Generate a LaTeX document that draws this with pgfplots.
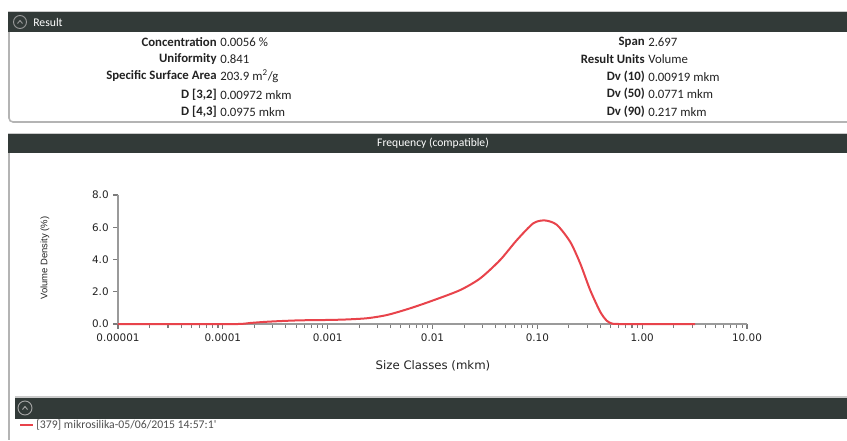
\documentclass[border=0pt]{standalone}
\usepackage{pgfplots}
\pgfplotsset{compat=1.18}
\usepackage{fontspec}
\setmainfont{Carlito}
\newfontfamily\dejavu{DejaVu Sans}
\newfontfamily\libsans{Liberation Sans}
\definecolor{barc}{HTML}{323A38}
\definecolor{brd}{HTML}{B4B4B4}
\definecolor{curve}{HTML}{E8434B}
\definecolor{axgray}{HTML}{9A9A9A}
\definecolor{txt}{HTML}{222222}
\begin{document}
\begin{tikzpicture}[x=0.75pt,y=0.75pt]
\useasboundingbox (0,0) rectangle (847,440);
% ---------- Result panel ----------
\draw[brd, line width=1.2pt, rounded corners=3pt] (847,428) -- (9,428) -- (9,318) -- (847,318);
\fill[barc] (8.4,428.5) rectangle (847,407.5);
\draw[brd!70, line width=0.8pt] (8.4,428.5) -- (847,428.5);
\draw[gray!80, line width=0.7pt] (20,418) circle (6.5);
\draw[gray!80, line width=0.7pt] (17.5,416.5) -- (20,419.5) -- (22.5,416.5);
\node[white, anchor=west, font=\fontsize{8.8}{9}\selectfont, inner sep=0] at (33,418) {Result};
\begin{scope}[every node/.style={font=\fontsize{9.6}{10}\selectfont, inner sep=0, text=txt}]
\node[anchor=east] at (217,398) {\bfseries Concentration};
\node[anchor=west] at (220,398) {0.0056 \%};
\node[anchor=east] at (217,381) {\bfseries Uniformity};
\node[anchor=west] at (220,381) {0.841};
\node[anchor=east] at (217,364) {\bfseries Specific Surface Area};
\node[anchor=west] at (220,364) {203.9 m\textsuperscript{2}/g};
\node[anchor=east] at (217,345) {\bfseries D [3,2]};
\node[anchor=west] at (220,345) {0.00972 mkm};
\node[anchor=east] at (217,328) {\bfseries D [4,3]};
\node[anchor=west] at (220,328) {0.0975 mkm};
\node[anchor=east] at (645,398) {\bfseries Span};
\node[anchor=west] at (648,398) {2.697};
\node[anchor=east] at (645,381) {\bfseries Result Units};
\node[anchor=west] at (648,381) {Volume};
\node[anchor=east] at (645,363) {\bfseries Dv (10)};
\node[anchor=west] at (648,363) {0.00919 mkm};
\node[anchor=east] at (645,346) {\bfseries Dv (50)};
\node[anchor=west] at (648,346) {0.0771 mkm};
\node[anchor=east] at (645,328) {\bfseries Dv (90)};
\node[anchor=west] at (648,328) {0.217 mkm};
\end{scope}
% ---------- Frequency panel ----------
\draw[brd, line width=1.2pt] (9,306) -- (9,0);
\fill[barc] (8.4,306.5) rectangle (847,287);
\draw[brd!70, line width=0.8pt] (8.4,306.5) -- (847,306.5);
\node[white, font=\fontsize{8.7}{9}\selectfont, inner sep=0] at (433,296.5) {Frequency (compatible)};
% bottom legend bar
\fill[barc] (15,43) rectangle (847,21);
\draw[brd!70, line width=0.8pt] (15,43) -- (847,43);
\draw[gray!70, line width=0.7pt] (25,32) circle (7);
\draw[gray!70, line width=0.7pt] (22.5,30.5) -- (25,33.5) -- (27.5,30.5);
\draw[curve, line width=1.3pt] (20,15) -- (33,15);
\node[anchor=west, inner sep=0, text=txt!80, font=\fontsize{8.8}{9}\selectfont] at (36,15) {[379] mikrosilika-05/06/2015 14:57:1\textquotesingle};
\node[rotate=90, font=\libsans\fontsize{7.1}{8}\selectfont, text=txt] at (45,182) {Volume Density (\%)};
\node[font=\dejavu\fontsize{8.8}{10}\selectfont, text=txt] at (433,74) {Size Classes (mkm)};
% ---------- axis ----------
\begin{axis}[
  at={(88.5pt,87pt)}, anchor=south west,
  scale only axis, width=471.75pt, height=96.75pt,
  xmode=log, xmin=1e-5, xmax=10, ymin=0, ymax=8,
  clip=false,
  axis x line*=bottom, axis y line*=left,
  axis line style={axgray, line width=1.4pt},
  xtick={1e-5,1e-4,1e-3,1e-2,1e-1,1,10},
  xticklabels={0.00001,0.0001,0.001,0.01,0.10,1.00,10.00},
  minor xtick={2e-5,3e-5,4e-5,5e-5,6e-5,7e-5,8e-5,9e-5,
               2e-4,3e-4,4e-4,5e-4,6e-4,7e-4,8e-4,9e-4,
               2e-3,3e-3,4e-3,5e-3,6e-3,7e-3,8e-3,9e-3,
               2e-2,3e-2,4e-2,5e-2,6e-2,7e-2,8e-2,9e-2,
               0.2,0.3,0.4,0.5,0.6,0.7,0.8,0.9,
               2,3,4,5,6,7,8,9},
  ytick={0,2,4,6,8},
  yticklabels={0.0,2.0,4.0,6.0,8.0},
  tick align=outside,
  major tick length=3.5pt, minor tick length=3pt,
  every tick/.style={axgray!80!black, line width=0.8pt},
  tick label style={font=\dejavu\fontsize{7.8}{9}\selectfont, text=txt},
]
\addplot[curve, line width=1.5pt, smooth, tension=0.45] coordinates {
(1e-5,0) (5e-5,0) (1.4e-4,0) (1.8e-4,0.06) (2.5e-4,0.13) (3.5e-4,0.18)
(5e-4,0.22) (7e-4,0.24) (1e-3,0.25) (1.5e-3,0.28) (2.4e-3,0.36)
(3.7e-3,0.56) (6.1e-3,0.97) (0.01,1.45) (0.0183,2.1) (0.0285,2.83)
(0.0442,3.97) (0.0637,5.2) (0.0918,6.25) (0.1186,6.42) (0.1535,6.15)
(0.2056,5.1) (0.256,3.77) (0.319,2.11) (0.398,0.76) (0.46,0.2)
(0.52,0.02) (0.6,0) (1,0) (3.2,0)
};
\end{axis}
\end{tikzpicture}
\end{document}
